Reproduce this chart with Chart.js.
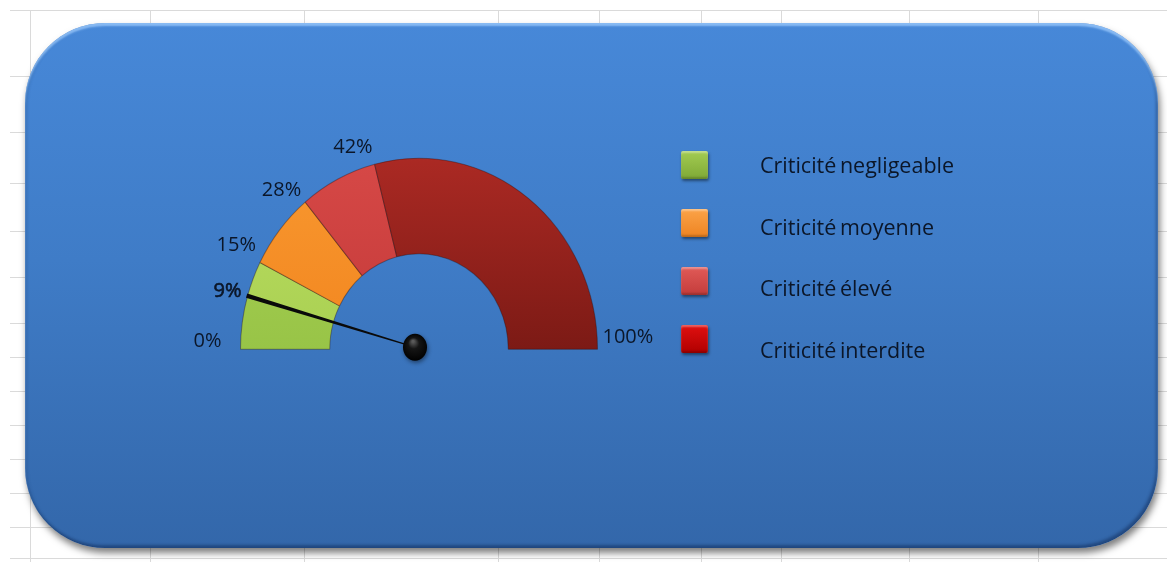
<!DOCTYPE html>
<html lang="fr">
<head>
<meta charset="utf-8">
<title>Jauge de criticité</title>
<script src="https://cdn.jsdelivr.net/npm/chart.js@4.4.1/dist/chart.umd.min.js"></script>
<style>
  html, body { margin: 0; padding: 0; }
  body { width: 1167px; height: 562px; background: #fff; position: relative; overflow: hidden; font-family: "Open Sans", sans-serif; }
  .hline, .vline { position: absolute; background: #dadada; }
  .hline { height: 1px; left: 10px; right: 0; }
  .vline { width: 1px; top: 10px; bottom: 0; }
  #panel {
    position: absolute; left: 25px; top: 23px; width: 1133px; height: 525px;
    border-radius: 80px;
    background: linear-gradient(to bottom, #4788d8 0%, #3f7cc7 45%, #3367aa 100%);
    box-shadow: 2px 5px 7px rgba(0,0,0,0.5),
                inset 0 3px 2px rgba(160,205,255,0.75),
                inset 2px 0 3px rgba(20,50,100,0.25),
                inset -2px -3px 3px rgba(10,30,70,0.4);
  }
  #gauge { position: absolute; left: 0; top: 0; }
  .key { position: absolute; left: 681px; width: 27px; height: 28px; border-radius: 2px;
         box-shadow: 1px 2px 3px rgba(0,0,0,0.45), inset 0 2px 2px rgba(255,255,255,0.35), inset 0 -2px 2px rgba(0,0,0,0.2); }
  .key-text { position: absolute; left: 760px; font-size: 21.5px; color: #0b1628; line-height: 26px; white-space: nowrap; word-spacing: -2px; }
</style>
</head>
<body>
<div id="panel"></div>
<canvas id="gauge" width="1167" height="562"></canvas>
<div id="legend"></div>
<script>
// sheet grid behind the chart
var gridRows = [10, 76, 132, 183, 231, 277, 323, 357, 391, 425, 459, 493, 527, 558];
var gridCols = [30, 150, 304, 498, 599, 701, 781, 909, 1038];

// gauge data (percent of the half circle)
var segmentValues = [9, 6, 13, 14, 58];
var segmentColors = [
    ['#acd457', '#98c447'],
    ['#bddf63', '#a9d052'],
    ['#f99a32', '#f2861f'],
    ['#d84a48', '#c43a39'],
    ['#b02b25', '#7c1a15']
];
var tickValues = [0, 9, 15, 28, 42, 100];
var needleValue = 9;

var legendLabels = ['Criticité negligeable', 'Criticité moyenne', 'Criticité élevé', 'Criticité interdite'];
var legendColors = [['#a3cc52', '#7fa936'], ['#fba348', '#ee8422'], ['#e05a57', '#c43c3b'], ['#e01010', '#b00000']];

gridRows.forEach(function (y) {
    var d = document.createElement('div');
    d.className = 'hline';
    d.style.top = y + 'px';
    document.body.insertBefore(d, document.body.firstChild);
});
gridCols.forEach(function (x) {
    var d = document.createElement('div');
    d.className = 'vline';
    d.style.left = x + 'px';
    document.body.insertBefore(d, document.body.firstChild);
});

var legend = document.getElementById('legend');
legendLabels.forEach(function (txt, i) {
    var k = document.createElement('div');
    k.className = 'key';
    k.style.top = (151 + i * 58) + 'px';
    k.style.background = 'linear-gradient(to bottom, ' + legendColors[i][0] + ', ' + legendColors[i][1] + ')';
    legend.appendChild(k);
    var t = document.createElement('div');
    t.className = 'key-text';
    t.style.top = (152 + i * 61.5) + 'px';
    t.textContent = txt;
    legend.appendChild(t);
});

// the gauge is drawn slightly taller than wide
var squashY = 1.07;

function gaugeCenter(chart) {
    var arc = chart.getDatasetMeta(0).data[0];
    return { x: arc.x, y: arc.y, outer: arc.outerRadius, inner: arc.innerRadius };
}

function valuePoint(c, v, r) {
    var a = Math.PI + v / 100 * Math.PI;
    return { x: c.x + r * Math.cos(a), y: c.y + r * Math.sin(a) * squashY, a: a };
}

var stretchPlugin = {
    id: 'stretch',
    beforeDatasetsDraw: function (chart) {
        var c = gaugeCenter(chart);
        var ctx = chart.ctx;
        ctx.save();
        ctx.translate(c.x, c.y);
        ctx.scale(1, squashY);
        ctx.translate(-c.x, -c.y);
    },
    afterDatasetsDraw: function (chart) {
        chart.ctx.restore();
    }
};

var needlePlugin = {
    id: 'needle',
    afterDraw: function (chart) {
        var ctx = chart.ctx;
        var c = gaugeCenter(chart);

        // tick labels round the outer edge
        ctx.save();
        ctx.font = '20px "Open Sans"';
        ctx.fillStyle = '#0b1628';
        ctx.strokeStyle = '#0b1628';
        ctx.textBaseline = 'middle';
        tickValues.forEach(function (v) {
            var p = valuePoint(c, v, c.outer);
            var txt = v + '%';
            if (v >= 50) {
                ctx.textAlign = 'left';
                ctx.fillText(txt, p.x + 5, p.y - 12);
            } else if (v === needleValue) {
                // needle value sits right at the tip, set a touch heavier
                ctx.textAlign = 'right';
                ctx.lineWidth = 0.6;
                ctx.fillText(txt, p.x - 6, p.y - 5);
                ctx.strokeText(txt, p.x - 6, p.y - 5);
            } else {
                ctx.textAlign = 'right';
                var gap = (v === 0) ? 19 : 4;
                ctx.fillText(txt, p.x - gap + (v > 30 ? 2 : 0), p.y - (v === 0 ? 8 : (v > 20 && v < 30 ? 12 : 17)));
            }
        });
        ctx.restore();

        // needle
        var tip = valuePoint(c, needleValue, c.outer + 1);
        var px = c.x - 4, py = c.y - 2;
        var ang = Math.atan2(tip.y - py, tip.x - px);
        var nx = -Math.sin(ang), ny = Math.cos(ang);
        ctx.save();
        ctx.fillStyle = '#0a0a0a';
        ctx.beginPath();
        ctx.moveTo(px + nx * 0.6, py + ny * 0.6);
        ctx.lineTo(tip.x + nx * 2.2, tip.y + ny * 2.2);
        ctx.lineTo(tip.x - nx * 2.2, tip.y - ny * 2.2);
        ctx.lineTo(px - nx * 0.6, py - ny * 0.6);
        ctx.closePath();
        ctx.fill();

        // pivot ball
        ctx.shadowColor = 'rgba(0,0,0,0.45)';
        ctx.shadowBlur = 4;
        ctx.shadowOffsetX = 1;
        ctx.shadowOffsetY = 2;
        var g = ctx.createRadialGradient(px - 2, py - 6, 1, px, py, 14);
        g.addColorStop(0, '#5a5a5a');
        g.addColorStop(0.35, '#151515');
        g.addColorStop(1, '#000000');
        ctx.fillStyle = g;
        ctx.beginPath();
        ctx.ellipse(px, py, 12, 13.5, 0, 0, Math.PI * 2);
        ctx.fill();
        ctx.restore();
    }
};

function segmentFill(context) {
    var cols = segmentColors[context.dataIndex];
    var area = context.chart.chartArea;
    if (!area) return cols[0];
    var g = context.chart.ctx.createLinearGradient(0, area.top - 20, 0, area.bottom);
    g.addColorStop(0, cols[0]);
    g.addColorStop(1, cols[1]);
    return g;
}

var gauge = new Chart(document.getElementById('gauge').getContext('2d'), {
    type: 'doughnut',
    data: {
        labels: legendLabels.slice(0, 1).concat(legendLabels),
        datasets: [{
            data: segmentValues,
            backgroundColor: segmentFill,
            borderColor: 'rgba(40,10,0,0.35)',
            borderWidth: 1
        }]
    },
    options: {
        responsive: false,
        animation: false,
        rotation: -90,
        circumference: 180,
        cutout: '50%',
        layout: { padding: { left: 240, right: 569, top: 170, bottom: 212 } },
        plugins: {
            legend: { display: false },
            tooltip: { enabled: false }
        }
    },
    plugins: [stretchPlugin, needlePlugin]
});
</script>
</body>
</html>
